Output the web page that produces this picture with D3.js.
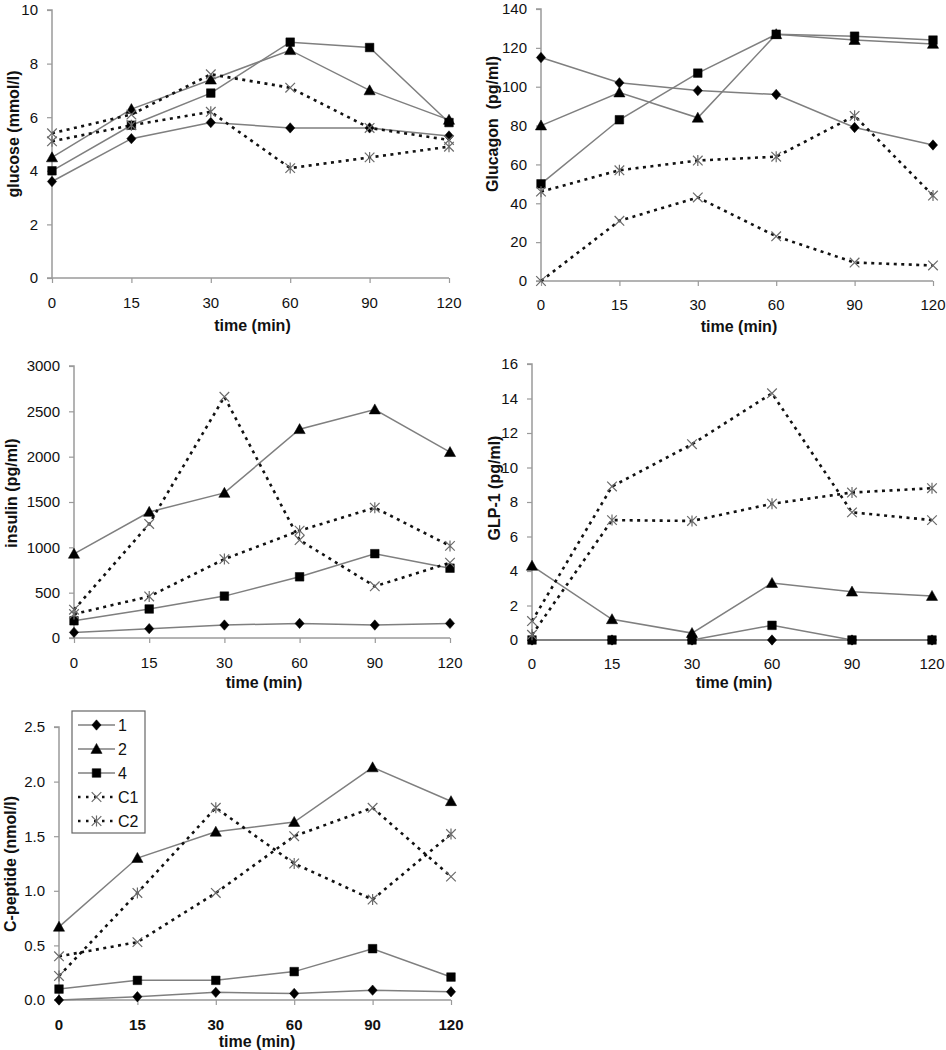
<!DOCTYPE html>
<html><head><meta charset="utf-8">
<script src="https://cdnjs.cloudflare.com/ajax/libs/d3/7.8.5/d3.min.js"></script>
<style>
html,body{margin:0;padding:0;background:#fff;}
svg{display:block;font-family:"Liberation Sans",Arial,sans-serif;}
</style></head>
<body>
<svg id="chart" width="946" height="1050"></svg>
<script>
// ---------- data ----------
const times = ["0","15","30","60","90","120"];
const seriesNames = ["1","2","4","C1","C2"];

const glucose1  = [3.6,5.2,5.8,5.6,5.6,5.3];
const glucose2  = [4.5,6.3,7.4,8.5,7.0,5.9];
const glucose4  = [4.0,5.7,6.9,8.8,8.6,5.8];
const glucoseC1 = [5.4,6.1,7.6,7.1,5.6,5.15];
const glucoseC2 = [5.1,5.7,6.2,4.1,4.5,4.9];
const glucoseTicks = [0,2,4,6,8,10];

const glucagon1  = [115,102,98,96,79,70];
const glucagon2  = [80,97,84,127,124,122];
const glucagon4  = [50,83,107,127,126,124];
const glucagonC1 = [0,31,43,23,9.5,8];
const glucagonC2 = [46,57,62,64,85,44];
const glucagonTicks = [0,20,40,60,80,100,120,140];

const insulin1  = [62,103,143,161,143,161];
const insulin2  = [928,1390,1600,2303,2520,2050];
const insulin4  = [190,320,462,675,930,770];
const insulinC1 = [312,1258,2660,1080,570,830];
const insulinC2 = [264,458,870,1184,1437,1016];
const insulinTicks = [0,500,1000,1500,2000,2500,3000];

const glp1_1  = [0,0,0,0,0,0];
const glp1_2  = [4.3,1.2,0.4,3.3,2.8,2.55];
const glp1_4  = [0,0,0,0.85,0,0];
const glp1_C1 = [1.1,8.9,11.35,14.3,7.4,6.95];
const glp1_C2 = [0.3,6.95,6.9,7.9,8.55,8.8];
const glp1Ticks = [0,2,4,6,8,10,12,14,16];

const cpep1  = [0,0.03,0.07,0.06,0.09,0.075];
const cpep2  = [0.67,1.30,1.54,1.63,2.13,1.82];
const cpep4  = [0.10,0.18,0.18,0.26,0.47,0.21];
const cpepC1 = [0.40,0.53,0.98,1.50,1.76,1.13];
const cpepC2 = [0.22,0.98,1.76,1.25,0.92,1.52];
const cpepTicks = [0,0.5,1.0,1.5,2.0,2.5];

// ---------- layout ----------
const panels = [
  {title:"glucose (mmol/l)", data:[glucose1,glucose2,glucose4,glucoseC1,glucoseC2], ticks:glucoseTicks, fmt:d3.format("d"),
   xr:[52,449], yr:[278,10], ytx:13, yty:134, xtBold:false, tickY:303, titleY:325},
  {title:"Glucagon  (pg/ml)", data:[glucagon1,glucagon2,glucagon4,glucagonC1,glucagonC2], ticks:glucagonTicks, fmt:d3.format("d"),
   xr:[541,933], yr:[281,9], ytx:492, yty:124, xtBold:false, tickY:305, titleY:326},
  {title:"insulin (pg/ml)", data:[insulin1,insulin2,insulin4,insulinC1,insulinC2], ticks:insulinTicks, fmt:d3.format("d"),
   xr:[74,450], yr:[638,366], ytx:11, yty:493, xtBold:false, tickY:663, titleY:682},
  {title:"GLP-1 (pg/ml)", data:[glp1_1,glp1_2,glp1_4,glp1_C1,glp1_C2], ticks:glp1Ticks, fmt:d3.format("d"),
   xr:[532,932], yr:[640,364], ytx:494, yty:488, xtBold:false, tickY:664, titleY:682},
  {title:"C-peptide (nmol/l)", data:[cpep1,cpep2,cpep4,cpepC1,cpepC2], ticks:cpepTicks, fmt:d3.format(".1f"),
   xr:[59,451], yr:[1000,727], ytx:10, yty:864, xtBold:true, tickY:1025, titleY:1041, legend:true}
];

const solidColor = "#7f7f7f";
const axisColor = "#9a9a9a";
const styles = [
  {dash:null, marker:"diamond"},
  {dash:null, marker:"triangle"},
  {dash:null, marker:"square"},
  {dash:"3,4.5", marker:"x"},
  {dash:"3,4.5", marker:"star"}
];
const markerPath = {
  diamond:"M0,-5.2L4.6,0L0,5.2L-4.6,0Z",
  triangle:"M0,-5.6L5.6,4.4L-5.6,4.4Z",
  square:"M-4.3,-4.3H4.3V4.3H-4.3Z",
  x:"M-4.8,-4.8L4.8,4.8M-4.8,4.8L4.8,-4.8",
  star:"M-4.8,-4.8L4.8,4.8M-4.8,4.8L4.8,-4.8M0,-5.5V5.5"
};
function drawMarker(g, type, x, y){
  const p = g.append("path").attr("d", markerPath[type]).attr("transform",`translate(${x},${y})`);
  if(type==="x"||type==="star"){
    p.attr("fill","none").attr("stroke","#6a6a6a").attr("stroke-width",1.2);
  } else {
    p.attr("fill","#000").attr("stroke","#000").attr("stroke-width",0.5);
  }
}

const svg = d3.select("#chart");

panels.forEach(P=>{
  const g = svg.append("g");
  const x = d3.scalePoint().domain(times).range(P.xr);
  const y = d3.scaleLinear().domain([P.ticks[0], P.ticks[P.ticks.length-1]]).range(P.yr);

  // y axis
  const ya = g.append("g").attr("transform",`translate(${P.xr[0]},0)`)
    .call(d3.axisLeft(y).tickValues(P.ticks).tickFormat(P.fmt).tickSize(5).tickPadding(9));
  ya.select(".domain").attr("stroke",axisColor).attr("stroke-width",1.5).attr("d",`M-5,${P.yr[1]}H0V${P.yr[0]}H-5`);
  ya.selectAll(".tick line").attr("stroke",axisColor).attr("stroke-width",1.2);
  ya.selectAll(".tick text").attr("font-size",15).attr("fill","#111")
    .attr("font-family",'"Liberation Sans",Arial,sans-serif');

  // x axis
  const xa = g.append("g").attr("transform",`translate(0,${P.yr[0]})`)
    .call(d3.axisBottom(x).tickSize(5).tickFormat(""));
  xa.select(".domain").attr("stroke",axisColor).attr("stroke-width",1.5).attr("d",`M${P.xr[0]},0H${P.xr[1]}`);
  xa.selectAll(".tick line").attr("stroke",axisColor).attr("stroke-width",1.2);
  g.append("g").selectAll("text").data(times).join("text")
    .attr("x",d=>x(d)).attr("y",P.tickY).attr("dy","0.35em")
    .attr("text-anchor","middle").attr("font-size",15).attr("fill","#111")
    .attr("font-weight",P.xtBold?"bold":"normal").text(d=>d);

  // titles
  g.append("text").attr("x",(P.xr[0]+P.xr[1])/2 + 2).attr("y",P.titleY).attr("dy","0.35em")
    .attr("text-anchor","middle").attr("font-size",16).attr("font-weight","bold").attr("fill","#111")
    .text("time (min)");
  g.append("text").attr("transform",`translate(${P.ytx},${P.yty}) rotate(-90)`).attr("dy","0.35em")
    .attr("text-anchor","middle").attr("font-size",16).attr("font-weight","bold").attr("fill","#111")
    .style("white-space","pre").attr("xml:space","preserve")
    .text(P.title);

  // series
  const line = d3.line().x((d,i)=>x(times[i])).y(d=>y(d));
  P.data.forEach((vals,si)=>{
    const st = styles[si];
    g.append("path").datum(vals).attr("d",line).attr("fill","none")
      .attr("stroke", st.dash ? "#111" : solidColor)
      .attr("stroke-width", st.dash ? 2.6 : 1.5)
      .attr("stroke-dasharray", st.dash);
  });
  P.data.forEach((vals,si)=>{
    const st = styles[si];
    const mg = g.append("g");
    vals.forEach((v,i)=>drawMarker(mg, st.marker, x(times[i]), y(v)));
  });

  if(P.legend){
    const lg = svg.append("g");
    lg.append("rect").attr("x",72).attr("y",711).attr("width",73).attr("height",122)
      .attr("fill","#fff").attr("stroke","#666").attr("stroke-width",1.2);
    const ly = d3.scalePoint().domain(seriesNames).range([725,821]);
    seriesNames.forEach((n,si)=>{
      const st = styles[si];
      const yy = ly(n);
      lg.append("line").attr("x1",78).attr("x2",115).attr("y1",yy).attr("y2",yy)
        .attr("stroke", st.dash ? "#111" : solidColor)
        .attr("stroke-width", st.dash ? 2.4 : 1.5)
        .attr("stroke-dasharray", st.dash ? "2.5,5.5" : null);
      drawMarker(lg, st.marker, 96.5, yy);
      lg.append("text").attr("x",118).attr("y",yy).attr("dy","0.36em")
        .attr("font-size",16).attr("fill","#111").text(n);
    });
  }
});
</script>
</body></html>
